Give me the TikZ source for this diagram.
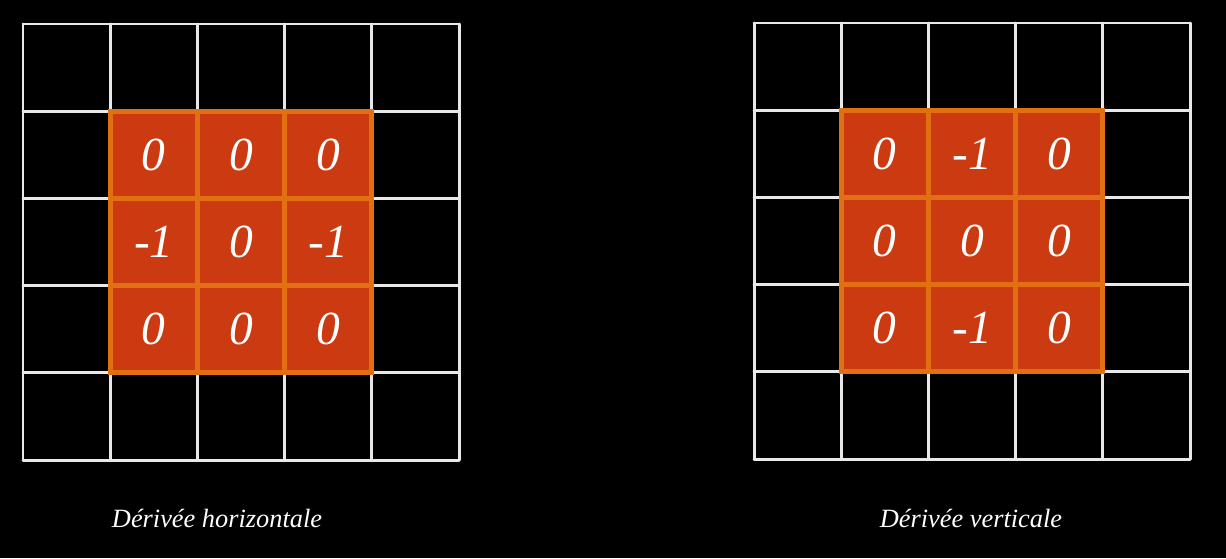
\documentclass[tikz,border=0pt]{standalone}
\usepackage{fontspec}
\setmainfont{Liberation Serif}
\usetikzlibrary{positioning}
\definecolor{kfill}{RGB}{203,58,16}
\definecolor{kedge}{RGB}{225,112,18}
\definecolor{gridline}{RGB}{232,232,232}

\begin{document}
\begin{tikzpicture}[
  x=0.02cm, y=-0.02cm,
  grille/.style = {draw=gridline, line width=1.7pt, line cap=round},
  cell/.style   = {fill=kfill, draw=kedge, line width=2.8pt, minimum size=1.744cm,
                   inner sep=0pt, outer sep=0pt, text=white,
                   font=\fontsize{27}{30}\selectfont\itshape},
  legende/.style= {text=white, font=\fontsize{15}{17}\selectfont\itshape},
]

% ── Background ────────────────────────────────────────────────────────────────
\fill[black] (0,0) rectangle (1226,558);
\useasboundingbox (0,0) rectangle (1226,558);

% ── 5x5 grids ─────────────────────────────────────────────────────────────────
\foreach \i in {0,...,5} {
  \draw[grille] (23+87.2*\i,24) -- (23+87.2*\i,460);
  \draw[grille] (23,24+87.2*\i) -- (459,24+87.2*\i);
  \draw[grille] (754+87.2*\i,23) -- (754+87.2*\i,459);
  \draw[grille] (754,23+87.2*\i) -- (1190,23+87.2*\i);
}

% ── Horizontal kernel ─────────────────────────────────────────────────────────
\foreach \r/\a/\b/\c in {1/0/0/0, 2/-1/0/-1, 3/0/0/0} {
  \node[cell] (h-\r-1) at (23+87.2*1.5, 24+87.2*\r+43.6) {\a};
  \node[cell, right=0pt of h-\r-1] (h-\r-2) {\b};
  \node[cell, right=0pt of h-\r-2] (h-\r-3) {\c};
}

% ── Vertical kernel ───────────────────────────────────────────────────────────
\foreach \r/\a/\b/\c in {1/0/-1/0, 2/0/0/0, 3/0/-1/0} {
  \node[cell] (v-\r-1) at (754+87.2*1.5, 23+87.2*\r+43.6) {\a};
  \node[cell, right=0pt of v-\r-1] (v-\r-2) {\b};
  \node[cell, right=0pt of v-\r-2] (v-\r-3) {\c};
}

% ── Captions ──────────────────────────────────────────────────────────────────
\node[legende] (lgh) at (217,518) {Dérivée horizontale};
\node[legende] (lgv) at (971,518) {Dérivée verticale};

\end{tikzpicture}
\end{document}
